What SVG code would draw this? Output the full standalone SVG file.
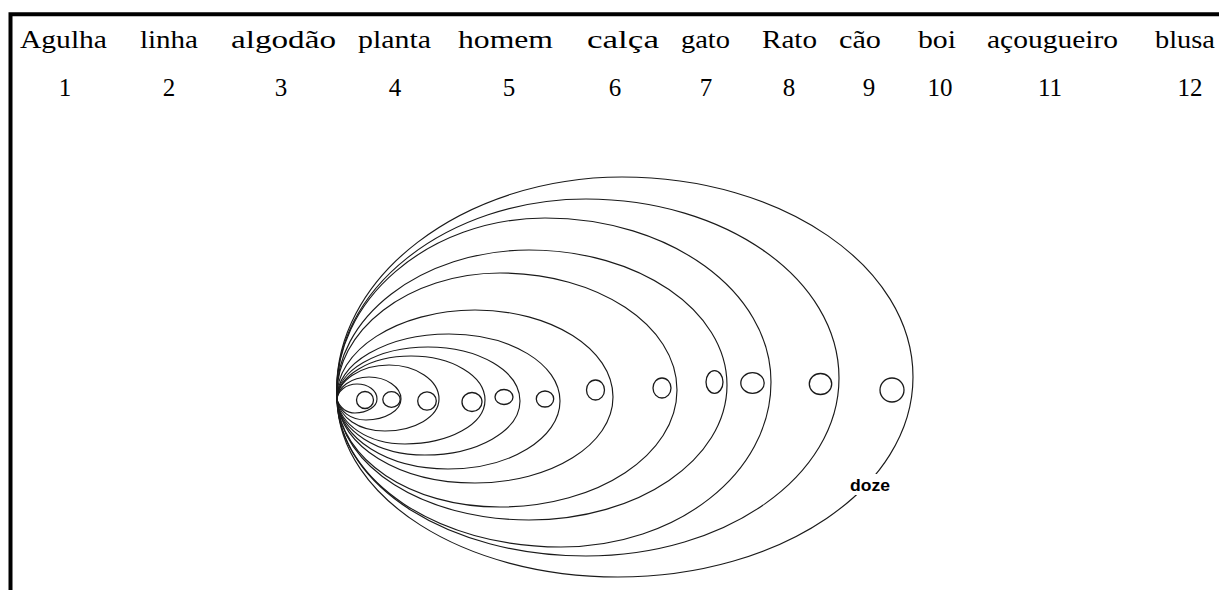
<svg xmlns="http://www.w3.org/2000/svg" width="1219" height="590" viewBox="0 0 1219 590">
<style>
.w{font-family:"Liberation Serif","Times New Roman",serif;font-size:25px;fill:#000}
.n{font-family:"Liberation Serif","Times New Roman",serif;font-size:25px;fill:#000;text-anchor:middle}
.e{fill:none;stroke:#1a1a1a;stroke-width:1.15}
.c{fill:none;stroke:#1a1a1a;stroke-width:1.3}
</style>
<rect width="1219" height="590" fill="#fff"/>
<path id="frame" d="M10.5 590 V14.3 H1219" fill="none" stroke="#000" stroke-width="4" stroke-linejoin="miter"/>
<g id="words">
<text class="w" x="20" y="48" textLength="87" lengthAdjust="spacingAndGlyphs">Agulha</text>
<text class="w" x="140" y="48" textLength="58" lengthAdjust="spacingAndGlyphs">linha</text>
<text class="w" x="231" y="48" textLength="105" lengthAdjust="spacingAndGlyphs">algodão</text>
<text class="w" x="358" y="48" textLength="73" lengthAdjust="spacingAndGlyphs">planta</text>
<text class="w" x="458" y="48" textLength="95" lengthAdjust="spacingAndGlyphs">homem</text>
<text class="w" x="587" y="48" textLength="72" lengthAdjust="spacingAndGlyphs">calça</text>
<text class="w" x="681" y="48" textLength="49" lengthAdjust="spacingAndGlyphs">gato</text>
<text class="w" x="762" y="48" textLength="55" lengthAdjust="spacingAndGlyphs">Rato</text>
<text class="w" x="839" y="48" textLength="42" lengthAdjust="spacingAndGlyphs">cão</text>
<text class="w" x="918" y="48" textLength="38" lengthAdjust="spacingAndGlyphs">boi</text>
<text class="w" x="987" y="48" textLength="131" lengthAdjust="spacingAndGlyphs">açougueiro</text>
<text class="w" x="1155" y="48" textLength="60" lengthAdjust="spacingAndGlyphs">blusa</text>
</g>
<g id="numbers">
<text class="n" x="65" y="96">1</text>
<text class="n" x="169" y="96">2</text>
<text class="n" x="281" y="96">3</text>
<text class="n" x="395" y="96">4</text>
<text class="n" x="509" y="96">5</text>
<text class="n" x="615" y="96">6</text>
<text class="n" x="706" y="96">7</text>
<text class="n" x="789" y="96">8</text>
<text class="n" x="869" y="96">9</text>
<text class="n" x="940" y="96">10</text>
<text class="n" x="1050" y="96">11</text>
<text class="n" x="1190" y="96">12</text>
</g>
<g id="set1"><path class="e" d="M337 400 C337 391.2 346 384 357 384 C368 384 377 390.5 377 399 C377 406.5 367.5 413 355 413 C345 413 340 407 337 400Z"/><ellipse class="c" cx="365" cy="400" rx="8.5" ry="8.5"/></g>
<g id="set2"><path class="e" d="M337 400 C337 387.3 351.3 377 369 377 C386.1 377 401 386.9 401 399 C401 410.6 385.3 420 366 420 C350 420 340 411 337 400Z"/><ellipse class="c" cx="391.5" cy="399.5" rx="8.7" ry="7.8"/></g>
<g id="set3"><path class="e" d="M337 400 C337 380.7 360.5 365 389 365 C416 365 439 380.2 439 399 C439 416.7 414.3 431 385 431 C358.1 431 340 417.1 337 400Z"/><ellipse class="c" cx="427" cy="401" rx="9.3" ry="9.2"/></g>
<g id="set4"><path class="e" d="M337 400 C337 375.7 370.2 356 411 356 C451.8 356 485 375.7 485 400 C485 424.3 449.2 444 405 444 C367.5 444 340 424.3 337 400Z"/><ellipse class="c" cx="472" cy="402" rx="10" ry="9.5"/></g>
<g id="set5"><path class="e" d="M337 400 C336 370.7 377.8 347 428 347 C478.8 347 520 371.2 520 401 C520 430.8 477.4 455 425 455 C376.4 455 340 430.4 337 400Z"/><ellipse class="c" cx="504" cy="397" rx="9" ry="7.5"/></g>
<g id="set6"><path class="e" d="M337 400 C335 363.6 387.2 334 449 334 C510.3 334 560 364 560 401 C560 438.5 509.8 469 448 469 C386.7 469 340 438.1 337 400Z"/><ellipse class="c" cx="545" cy="399" rx="8.7" ry="8"/></g>
<g id="set7"><path class="e" d="M337 400 C334 350.3 398.8 310 475 310 C551.2 310 613 349 613 397 C613 444.5 551.2 483 475 483 C398.8 483 340 445.8 337 400Z"/><ellipse class="c" cx="595.5" cy="390" rx="9" ry="10"/></g>
<g id="set8"><path class="e" d="M337 400 C333 329.9 410 273 500 273 C597.7 273 677 325.4 677 390 C677 454.6 597.7 507 500 507 C410 507 340 459.1 337 400Z"/><ellipse class="c" cx="662" cy="388" rx="9" ry="10"/></g>
<g id="set9"><path class="e" d="M337 400 C332 317.2 423 250 529 250 C638.3 250 727 310.5 727 385 C727 459.5 638.3 520 529 520 C423 520 340 466.2 337 400Z"/><ellipse class="c" cx="714.5" cy="382" rx="8.5" ry="11.3"/></g>
<g id="set10"><path class="e" d="M337 400 C331 299.5 430.2 218 545 218 C669.8 218 771 291.5 771 382 C771 473.1 676.9 547 561 547 C437.4 547 340 481.1 337 400Z"/><ellipse class="c" cx="752.5" cy="383" rx="11.7" ry="10.3"/></g>
<g id="set11"><path class="e" d="M337 400 C330 289 448.6 199 586 199 C725.7 199 839 279.2 839 378 C839 476.3 725.7 556 586 556 C448.6 556 340 486.1 337 400Z"/><ellipse class="c" cx="820.5" cy="384" rx="11.2" ry="10.5"/></g>
<g id="set12"><path class="e" d="M337 400 C329 276.9 464.7 177 622 177 C782.6 177 913 266.6 913 377 C913 487.4 780.8 577 618 577 C462.9 577 340 497.7 337 400Z"/><ellipse class="c" cx="892" cy="390" rx="12" ry="12"/></g>
<g id="doze-label">
<rect x="848" y="474" width="44" height="21" fill="#fff"/>
<text x="850" y="491" textLength="40" lengthAdjust="spacingAndGlyphs" font-family="'Liberation Sans',Arial,sans-serif" font-weight="bold" font-size="17" fill="#000">doze</text>
</g>
</svg>
